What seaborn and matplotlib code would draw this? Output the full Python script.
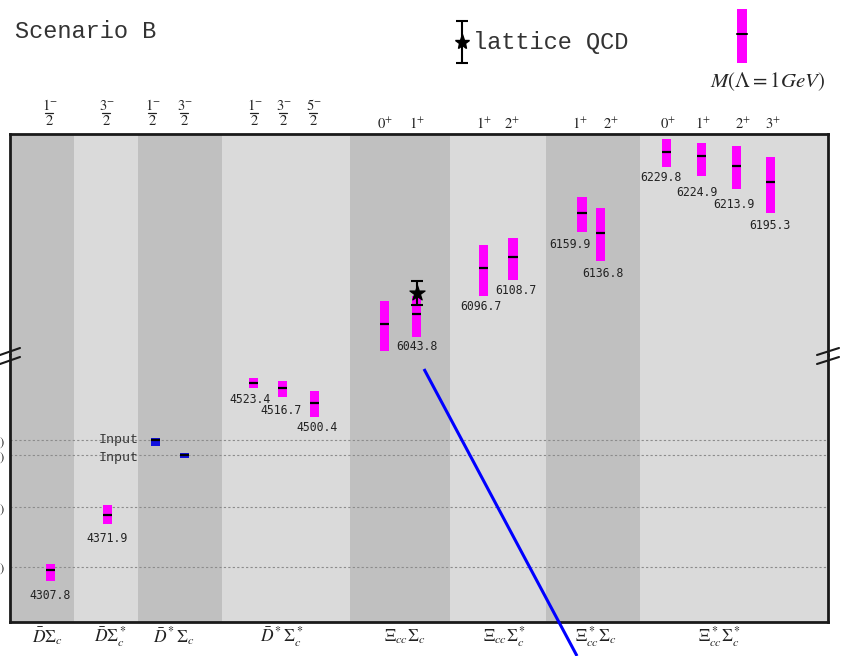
import matplotlib
matplotlib.use("Agg")
import matplotlib.pyplot as plt
import seaborn as sns
import pandas as pd
from matplotlib.patches import Rectangle

# ---------------- data ----------------
channels = [r"$\bar{D}\Sigma_c$", r"$\bar{D}\Sigma_c^*$", r"$\bar{D}^*\Sigma_c$",
            r"$\bar{D}^*\Sigma_c^*$", r"$\Xi_{cc}\Sigma_c$", r"$\Xi_{cc}\Sigma_c^*$",
            r"$\Xi_{cc}^*\Sigma_c$", r"$\Xi_{cc}^*\Sigma_c^*$"]
# J^P: "numerator sign / denominator"  (integer spins have no denominator)
jp_labels = ["1-/2", "3-/2", "1-/2", "3-/2", "1-/2", "3-/2", "5-/2",
             "0+", "1+", "1+", "2+", "1+", "2+", "0+", "1+", "2+", "3+"]
state_channel = [0, 1, 2, 2, 3, 3, 3, 4, 4, 5, 5, 6, 6, 7, 7, 7, 7]
mass = [4307.8, 4371.9, 4457.0, 4440.0, 4523.4, 4516.7, 4500.4,
        6031.8, 6043.8, 6096.7, 6108.7, 6159.9, 6136.8,
        6229.8, 6224.9, 6213.9, 6195.3]
mass_low = [4295.5, 4361.2, 4450.0, 4437.0, 4517.5, 4506.7, 4483.4,
            6001.5, 6017.4, 6064.5, 6082.6, 6138.1, 6105.0,
            6212.2, 6202.7, 6186.8, 6160.0]
mass_high = [4315.5, 4382.6, 4460.0, 4443.0, 4528.5, 4525.1, 4514.2,
             6058.9, 6064.8, 6123.1, 6131.2, 6178.3, 6165.5,
             6245.1, 6240.6, 6236.2, 6224.4]
is_input = [False, False, True, True] + [False] * 13
thresholds = [4312, 4380, 4440, 4457]
threshold_labels = [r"$P_c(4312)$", r"$P_c(4380)$", r"$P_c(4440)$", r"$P_c(4457)$"]
lattice_mass = 6068.0
lattice_err = 14.0

df = pd.DataFrame({"mass": mass, "low": mass_low, "high": mass_high,
                   "channel": state_channel, "jp": jp_labels, "input": is_input})

# ---------------- layout (not data) ----------------
x_state = [40.5, 97.5, 145.3, 174.5, 243.5, 272.5, 304.5, 374.5, 406.5,
           473.5, 503.0, 572.0, 590.5, 656.5, 691.5, 726.5, 760.5]
jp_x = [39, 96, 142, 174, 244, 273, 303, 375, 407, 474, 502, 570, 601, 658, 693, 733, 763]
channel_x = [37, 100, 164, 272, 395, 495, 586, 710]
band_edges = [0, 64, 128, 212, 340, 440, 536, 630, 818]
label_dx = [0, 0, 0, 0, -3, -1.5, 2.5, -1.5, 0.5, -2.5, 3, -12, 2.5, -5.5, -4.5, -2.5, -0.5]
label_dy = [14, 15, 0, 0, 12, 13.7, 10, 14, 9.4, 10.7, 10.7, 13, 13, 10.4, 16.7, 15, 13]
df["x"] = x_state

sns.set_theme(style="white")
plt.rcParams["mathtext.fontset"] = "stix"
plt.rcParams["font.family"] = ["DejaVu Sans"]

W, H = 846, 656
fig = plt.figure(figsize=(W / 100, H / 100), dpi=100)


def box(l, t, r, b):
    return [l / W, 1 - b / H, (r - l) / W, (b - t) / H]


ax_up = fig.add_axes(box(10, 134, 828, 355))
ax_lo = fig.add_axes(box(10, 355, 828, 622))
ax_up.set_ylim(5996.5, 6250.5)
ax_lo.set_ylim(4248.6, 4555.0)

DARK, LIGHT = "#c0c0c0", "#dadada"
for ax in (ax_up, ax_lo):
    ax.set_xlim(0, 818)
    for i in range(len(band_edges) - 1):
        ax.axvspan(band_edges[i], band_edges[i + 1], color=DARK if i % 2 == 0 else LIGHT,
                   lw=0, zorder=0)
    ax.set_xticks([])
    for s in ax.spines.values():
        s.set_color("#1a1a1a")
        s.set_linewidth(2)
ax_up.spines["bottom"].set_visible(False)
ax_lo.spines["top"].set_visible(False)
ax_up.set_yticks([])

for t in thresholds:
    ax_lo.axhline(t, color="#8c8c8c", ls=(0, (2, 2)), lw=0.8, zorder=1)
ax_lo.set_yticks(thresholds)
ax_lo.set_yticklabels(threshold_labels, fontsize=9)
ax_lo.tick_params(axis="y", length=0, pad=4)

BW = 9.5
for i, r in df.iterrows():
    ax = ax_up if r["mass"] > 5000 else ax_lo
    col = "#1010e0" if r["input"] else "#ff00ff"
    ax.bar(r["x"], r["high"] - r["low"], bottom=r["low"], width=BW, color=col,
           edgecolor="none", zorder=3)
    ax.hlines(r["mass"], r["x"] - BW / 2, r["x"] + BW / 2, color="black", lw=1.6, zorder=4)
    if r["input"]:
        ax.annotate("Input", xy=(129, r["mass"]), xytext=(0, -2.3 * 0.72 if i == 3 else 0.5),
                    textcoords="offset points", ha="right", va="center",
                    family="Liberation Mono", fontsize=9.5, color="#333333")
    else:
        ax.annotate(f"{r['mass']:.1f}", xy=(r["x"], r["low"]),
                    xytext=(label_dx[i] * 0.72, -label_dy[i] * 0.72),
                    textcoords="offset points", ha="center", va="center",
                    family="DejaVu Sans Mono", fontsize=8.3, color="#222222")

# lattice QCD point
ax_up.errorbar([406.7], [lattice_mass], yerr=[lattice_err], fmt="none", ecolor="black",
               elinewidth=1.5, capsize=4, capthick=1.5, zorder=5)
sns.scatterplot(x=[406.7], y=[lattice_mass], marker="*", s=130, color="black",
                edgecolor="black", ax=ax_up, zorder=6, legend=False)

# J^P labels above
tr = ax_up.get_xaxis_transform()
for lab, xj in zip(jp_labels, jp_x):
    if "/" in lab:
        num, den = lab.split("/")
        ax_up.text(xj + 1, 1.130, rf"${num[:-1]}^{{{num[-1]}}}$", transform=tr, ha="center",
                   va="center", fontsize=10.5, color="#222222", clip_on=False)
        ax_up.plot([xj - 4, xj + 4], [1.095, 1.095], transform=tr, color="#222222",
                   lw=0.9, clip_on=False)
        ax_up.text(xj, 1.063, rf"${den}$", transform=tr, ha="center",
                   va="center", fontsize=10.5, color="#222222", clip_on=False)
    else:
        ax_up.text(xj, 1.045, rf"${lab[:-1]}^{{{lab[-1]}}}$", transform=tr, ha="center",
                   va="center", fontsize=10.5, color="#222222", clip_on=False)

# channel labels below
trl = ax_lo.get_xaxis_transform()
for lab, xc in zip(channels, channel_x):
    ax_lo.text(xc, -0.055, lab, transform=trl, ha="center", va="center", fontsize=12.5,
               color="#222222", clip_on=False)

# overlay in pixel coordinates
ov = fig.add_axes([0, 0, 1, 1], zorder=10)
ov.set_xlim(0, W)
ov.set_ylim(H, 0)
ov.axis("off")
ov.patch.set_alpha(0)

ov.text(15, 31, "Scenario B", ha="left", va="center", family="Liberation Mono",
        fontsize=17, color="#333333")
ov.errorbar([462], [42], yerr=[21], fmt="none", ecolor="black", elinewidth=1.5,
            capsize=4, capthick=1.5)
ov.plot([462], [42], marker="*", ms=11, color="black")
ov.text(473, 42, "lattice QCD", ha="left", va="center", family="Liberation Mono",
        fontsize=17, color="#333333")
ov.add_patch(Rectangle((737, 9), 9.5, 54, color="#ff00ff", lw=0))
ov.plot([737, 746.5], [34, 34], color="black", lw=1.5)
ov.text(768, 82, r"$M(\Lambda=1GeV)$", ha="center", va="center", fontsize=15)

# axis break marks
for x0, x1 in ((0, 20), (817, 839)):
    ov.plot([x0, x1], [355, 348], color="#1a1a1a", lw=1.5, clip_on=False)
    ov.plot([x0, x1], [364, 357], color="#1a1a1a", lw=1.5, clip_on=False)

# stray blue line
ov.plot([424, 577], [369, 656], color="#0000ff", lw=2.2, solid_capstyle="butt")

fig.savefig("out.png", dpi=100)
